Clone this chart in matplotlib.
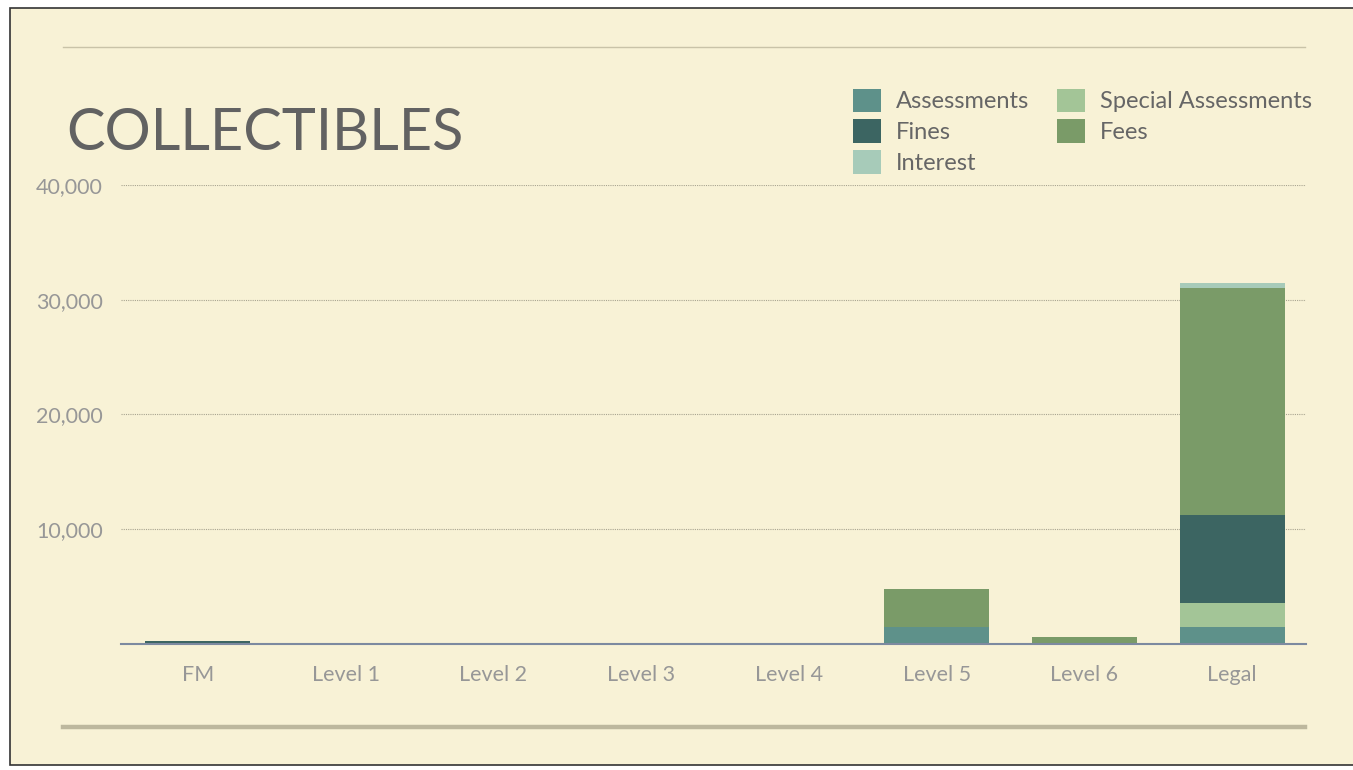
import matplotlib.pyplot as plt
from matplotlib.patches import Rectangle
from matplotlib.lines import Line2D
from matplotlib.ticker import FuncFormatter

CATEGORIES = ["FM", "Level 1", "Level 2", "Level 3", "Level 4", "Level 5", "Level 6", "Legal"]

ASSESSMENTS = [0, 0, 0, 0, 0, 1450, 0, 1500]
SPECIAL_ASSESSMENTS = [0, 0, 0, 0, 0, 0, 0, 2100]
FINES = [300, 0, 0, 0, 0, 0, 0, 7650]
FEES = [0, 0, 0, 0, 0, 3300, 600, 19800]
INTEREST = [0, 0, 0, 0, 0, 0, 0, 400]

Y_TICKS = [10000, 20000, 30000, 40000]

BG = "#f8f2d6"
COLORS = {
    "Assessments": "#5e918a",
    "Special Assessments": "#a3c597",
    "Fines": "#3c6562",
    "Fees": "#7a9b68",
    "Interest": "#a7cbb9",
}

W, H = 1353, 770
fig = plt.figure(figsize=(W / 100, H / 100), dpi=100, facecolor="white")
plt.rcParams["font.family"] = ["Lato", "DejaVu Sans"]

# slide background with dark frame (behind everything)
fig.patches.append(Rectangle((10 / W, 1 - 765 / H), (W - 10) / W + 0.01, (765 - 8) / H,
                             transform=fig.transFigure, facecolor=BG, edgecolor="#333333",
                             linewidth=1.2, zorder=-5))
# decorative rules
fig.add_artist(Line2D([63 / W, 1305 / W], [1 - 47 / H, 1 - 47 / H], transform=fig.transFigure,
                      color="#c9c3a8", linewidth=1.0))
fig.add_artist(Line2D([63 / W, 1305 / W], [1 - 727 / H, 1 - 727 / H], transform=fig.transFigure,
                      color="#bdb89e", linewidth=3.2))

fig.text(66 / W, 1 - 150 / H, "COLLECTIBLES", fontsize=41.5, fontweight="normal",
         color="#626262", ha="left", va="baseline")

ax = fig.add_axes([121 / W, 1 - 644 / H, (1306 - 121) / W, (644 - 185) / H])
ax.set_facecolor("none")

x = range(len(CATEGORIES))
series = [
    ("Assessments", ASSESSMENTS),
    ("Special Assessments", SPECIAL_ASSESSMENTS),
    ("Fines", FINES),
    ("Fees", FEES),
    ("Interest", INTEREST),
]
bottom = [0] * len(CATEGORIES)
handles = {}
for name, vals in series:
    bars = ax.bar(x, vals, bottom=bottom, width=0.71, color=COLORS[name], zorder=3, label=name)
    handles[name] = bars
    bottom = [b + v for b, v in zip(bottom, vals)]

ax.set_xlim(-0.52, 7.5)
ax.set_ylim(0, 40000)
ax.set_yticks(Y_TICKS)
ax.yaxis.set_major_formatter(FuncFormatter(lambda v, p: f"{int(v):,}"))
ax.set_xticks(list(x))
ax.set_xticklabels(CATEGORIES)
ax.tick_params(axis="both", length=0, labelsize=15.5, labelcolor="#979797")
ax.tick_params(axis="x", pad=15)
ax.tick_params(axis="y", pad=13)

ax.grid(axis="y", linestyle=(0, (1, 1)), color="#a8a490", linewidth=0.8, zorder=0)
for side in ["top", "right", "left"]:
    ax.spines[side].set_visible(False)
ax.spines["bottom"].set_color("#7d8aa0")
ax.spines["bottom"].set_linewidth(1.5)
ax.spines["bottom"].set_zorder(4)

order = ["Assessments", "Fines", "Interest", "Special Assessments", "Fees"]
leg = fig.legend([handles[n] for n in order], order, ncol=2, loc="upper left",
                 bbox_to_anchor=(836 / W, 1 - 72 / H), frameon=False, fontsize=17,
                 handlelength=1.2, handleheight=1.15, handletextpad=0.65,
                 columnspacing=1.15, labelspacing=0.3, borderpad=0.2)
for t in leg.get_texts():
    t.set_color("#666666")

fig.savefig("out.png", dpi=100, facecolor="white")
